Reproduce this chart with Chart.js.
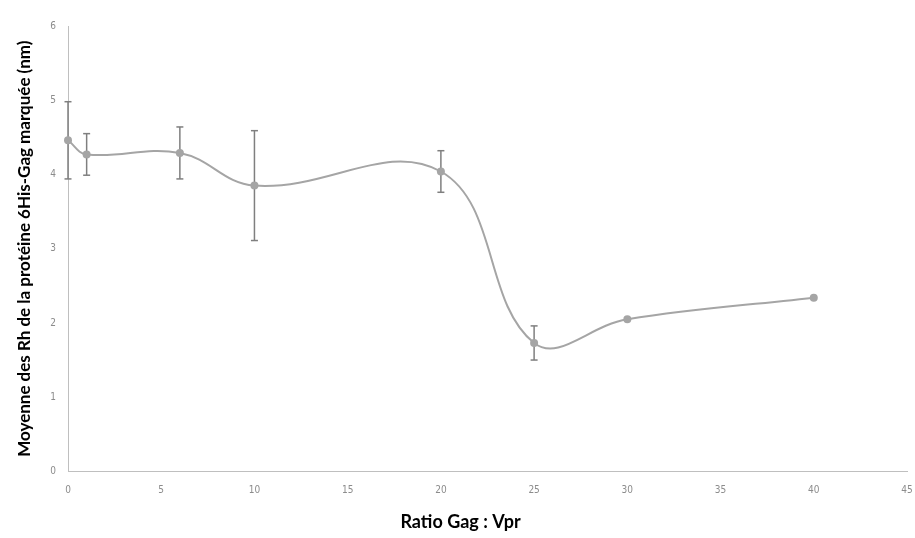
<!DOCTYPE html>
<html lang="fr">
<head>
    <meta charset="UTF-8">
    <title>Rh moyen - 6His-Gag</title>
    <script src="https://cdn.jsdelivr.net/npm/chart.js"></script>
    <style>
        html, body {
            margin: 0;
            padding: 0;
            background: #ffffff;
        }
    </style>
</head>
<body>

    <canvas id="rhChart" width="915" height="538"></canvas>

    <script>
        // Values
        const ratios = [0, 1, 6, 10, 20, 25, 30, 40];
        const rhMeans = [4.46, 4.27, 4.29, 3.85, 4.04, 1.73, 2.05, 2.34];
        const rhErrors = [0.52, 0.28, 0.35, 0.74, 0.28, 0.23, 0, 0];
        const xTicks = [0, 5, 10, 15, 20, 25, 30, 35, 40, 45];
        const yTicks = [0, 1, 2, 3, 4, 5, 6];

        const lineGrey = "#a5a5a5";
        const barGrey = "#7f7f7f";
        const tickFont = { family: "'Liberation Sans Narrow', 'DejaVu Sans Condensed', sans-serif", size: 10 };
        const titleFamily = "Lato, 'Open Sans', sans-serif";

        // main series first so it is drawn on top of the error bars
        const datasets = [{
            label: "Rh",
            data: ratios.map((r, i) => ({ x: r, y: rhMeans[i] })),
            borderColor: lineGrey,
            backgroundColor: lineGrey,
            borderWidth: 2,
            pointRadius: 4,
            pointBorderWidth: 0,
            tension: 0.4,
            clip: false
        }];

        // one small dataset per error bar, caps drawn with the "line" point style
        ratios.forEach((r, i) => {
            if (!rhErrors[i]) return;
            datasets.push({
                label: "err" + i,
                data: [
                    { x: r, y: rhMeans[i] - rhErrors[i] },
                    { x: r, y: rhMeans[i] + rhErrors[i] }
                ],
                borderColor: barGrey,
                backgroundColor: barGrey,
                borderWidth: 1.5,
                pointStyle: "line",
                pointRadius: 3.5,
                pointBorderWidth: 1.5,
                pointBorderColor: barGrey,
                tension: 0,
                clip: false
            });
        });

        const ctx = document.getElementById("rhChart").getContext("2d");
        new Chart(ctx, {
            type: "line",
            data: { datasets: datasets },
            options: {
                responsive: false,
                animation: false,
                devicePixelRatio: 1,
                layout: {
                    padding: { left: 6, right: 0, top: 26, bottom: 0 }
                },
                plugins: {
                    legend: { display: false },
                    tooltip: { enabled: false },
                    // x axis title drawn by the title plugin so it sits near the page centre
                    title: {
                        display: true,
                        position: "bottom",
                        text: "Ratio Gag : Vpr",
                        color: "#000000",
                        font: { family: titleFamily, size: 18, weight: "bold" },
                        padding: { top: 0, bottom: 5 }
                    }
                },
                scales: {
                    x: {
                        type: "linear",
                        min: 0,
                        max: 45,
                        afterBuildTicks: s => { s.ticks = xTicks.map(v => ({ value: v })); },
                        afterFit: s => { s.height = 40; s.paddingRight = 8; },
                        grid: { display: false, drawTicks: false },
                        border: { color: "#bfbfbf", width: 1 },
                        ticks: { color: "#8c8c8c", font: tickFont, padding: 13, maxRotation: 0, autoSkip: false }
                    },
                    y: {
                        min: 0,
                        max: 6,
                        afterBuildTicks: s => { s.ticks = yTicks.map(v => ({ value: v })); },
                        afterFit: s => { s.width = 62; },
                        grid: { display: false, drawTicks: false },
                        border: { color: "#bfbfbf", width: 1 },
                        ticks: { color: "#8c8c8c", font: tickFont, padding: 12, autoSkip: false },
                        title: {
                            display: true,
                            text: "Moyenne des Rh de la protéine 6His-Gag marquée (nm)",
                            color: "#000000",
                            font: { family: titleFamily, size: 17, weight: "bold" },
                            padding: { top: 8, bottom: 0 }
                        }
                    }
                }
            }
        });
    </script>

</body>
</html>
